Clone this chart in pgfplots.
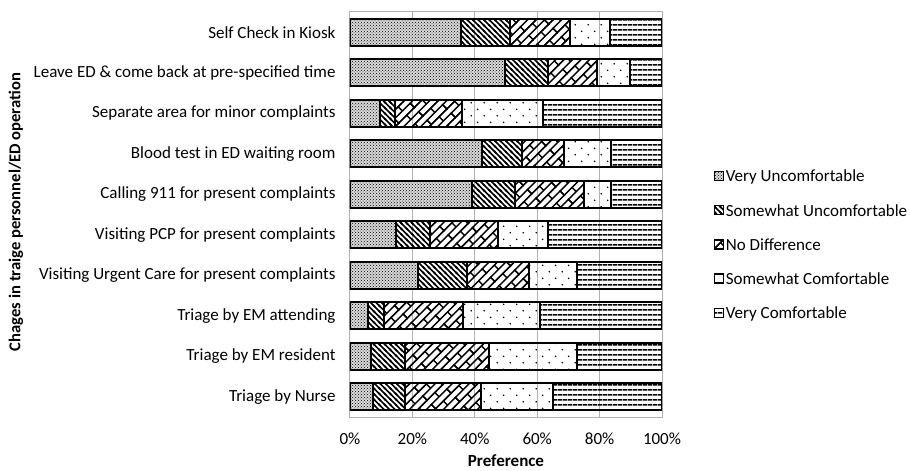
\documentclass[border=0pt]{standalone}
\usepackage{fontspec}
\setmainfont{Carlito}
\usepackage{pgfplots}
\usepackage{pgfplotstable}
\pgfplotsset{compat=1.18}
\usetikzlibrary{patterns,patterns.meta}

% thick "\" stripes
\pgfdeclarepatternformonly{thicknw}{\pgfqpoint{-1pt}{-1pt}}{\pgfqpoint{6.5pt}{6.5pt}}{\pgfqpoint{5.5pt}{5.5pt}}{%
  \pgfsetlinewidth{1.5pt}
  \pgfpathmoveto{\pgfqpoint{0pt}{5.5pt}}\pgfpathlineto{\pgfqpoint{5.5pt}{0pt}}
  \pgfpathmoveto{\pgfqpoint{-1pt}{1pt}}\pgfpathlineto{\pgfqpoint{1pt}{-1pt}}
  \pgfpathmoveto{\pgfqpoint{4.5pt}{6.5pt}}\pgfpathlineto{\pgfqpoint{6.5pt}{4.5pt}}
  \pgfusepath{stroke}}
% thick horizontal lines
\pgfdeclarepatternformonly{thickh}{\pgfpointorigin}{\pgfqpoint{4.6pt}{4.6pt}}{\pgfqpoint{4.6pt}{4.6pt}}{%
  \pgfsetlinewidth{1.4pt}
  \pgfpathmoveto{\pgfqpoint{0pt}{2.3pt}}\pgfpathlineto{\pgfqpoint{4.6pt}{2.3pt}}
  \pgfusepath{stroke}}
% sparse staggered dots
\pgfdeclarepatternformonly{sparsedots}{\pgfpointorigin}{\pgfqpoint{13.4pt}{13.4pt}}{\pgfqpoint{13.4pt}{13.4pt}}{%
  \pgfpathcircle{\pgfqpoint{3.35pt}{3.35pt}}{0.9pt}
  \pgfpathcircle{\pgfqpoint{10.05pt}{10.05pt}}{0.9pt}
  \pgfusepath{fill}}
% diagonal bricks
\tikzdeclarepattern{
  name=dbricks,
  type=uncolored,
  bounding box={(-1pt,-1pt) and (23pt,13pt)},
  tile size={(22pt,12pt)},
  tile transformation={rotate=45},
  code={
    \draw[line width=1.4pt] (-1pt,0pt) -- (23pt,0pt) (-1pt,6pt) -- (23pt,6pt) (-1pt,12pt) -- (23pt,12pt)
      (0pt,0pt) -- (0pt,6pt) (22pt,0pt) -- (22pt,6pt) (11pt,6pt) -- (11pt,12pt);
  }
}

\pgfplotstableread{
y vu su nd sc vc
0 7.3 10.2 24.4 23.2 34.9
1 6.8 10.7 26.9 28.2 27.4
2 5.7 5.3 25.3 24.7 39.0
3 21.7 15.9 19.7 15.3 27.4
4 14.7 11.1 21.5 16.1 36.6
5 39.0 13.9 22.2 8.6 16.3
6 42.3 12.9 13.3 15.2 16.3
7 9.5 4.8 21.5 26.2 38.0
8 49.8 13.6 15.8 10.6 10.2
9 35.5 15.8 19.1 12.9 16.7
}\datatable

\begin{document}
\begin{tikzpicture}
\useasboundingbox (0,0) rectangle (910pt,471pt);
\begin{axis}[
  at={(350pt,54pt)}, anchor=south west,
  scale only axis, width=312pt, height=405pt,
  xbar stacked, bar width=27pt,
  xmin=0, xmax=100, ymin=-0.5, ymax=9.5,
  font=\fontsize{17}{20}\selectfont,
  /pgf/number format/assume math mode=true,
  xtick={0,20,...,100},
  xticklabel={\pgfmathprintnumber{\tick}\%},
  ytick={0,...,9},
  yticklabels={Triage by Nurse,Triage by EM resident,Triage by EM attending,Visiting Urgent Care for present complaints,Visiting PCP for present complaints,Calling 911 for present complaints,Blood test in ED waiting room,Separate area for minor complaints,Leave ED \& come back at pre-specified time,Self Check in Kiosk},
  major tick length=0pt,
  yticklabel style={xshift=-11pt},
  xticklabel style={yshift=-12pt},
  xmajorgrids, grid style={gray!60, line width=1pt},
  axis line style={gray!60, line width=1pt},
  xlabel={\bfseries Preference},
  xlabel style={at={(axis description cs:0.5,-0.109)}, anchor=center},
  ylabel={\bfseries\fontsize{16.6}{19}\selectfont Chages in traige personnel/ED operation},
  ylabel style={at={(axis description cs:-1.0705,0.506)}, anchor=center},
  every axis plot/.append style={draw=black, line width=2pt},
  legend cell align=left,
  legend style={draw=none, fill=none, at={(axis description cs:1.165,0.615)}, anchor=north west,
    row sep=16.8pt, font=\fontsize{17}{20}\selectfont, inner sep=0pt},
  legend image code/.code={\draw[#1, line width=1.2pt] (0pt,-4pt) rectangle (9pt,5pt);},
]
\addplot[fill=gray!30, postaction={pattern=crosshatch dots}] table[x=vu, y=y] {\datatable};
\addlegendentry{Very Uncomfortable}
\addplot[pattern=thicknw] table[x=su, y=y] {\datatable};
\addlegendentry{Somewhat Uncomfortable}
\addplot[pattern=dbricks] table[x=nd, y=y] {\datatable};
\addlegendentry{No Difference}
\addplot[pattern=sparsedots] table[x=sc, y=y] {\datatable};
\addlegendentry{Somewhat Comfortable}
\addplot[pattern=thickh] table[x=vc, y=y] {\datatable};
\addlegendentry{Very Comfortable}
\end{axis}
\end{tikzpicture}
\end{document}
